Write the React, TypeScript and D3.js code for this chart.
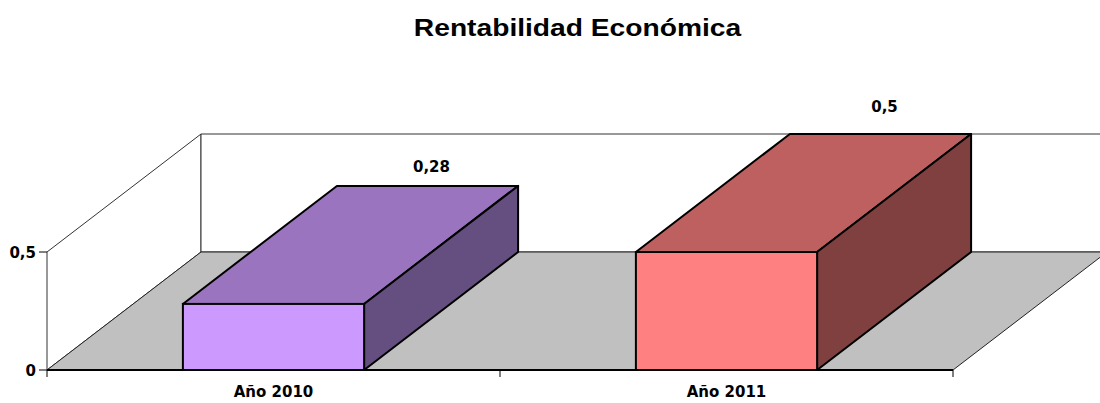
import React, { useEffect, useRef } from 'react';
import * as d3 from 'd3';

// chart data
const categories = ['Año 2010', 'Año 2011'];
const values = [0.28, 0.5];
const valueLabels = ['0,28', '0,5'];
const yTicks = [0, 0.5];
const yTickLabels = ['0', '0,5'];
const frontColors = ['#CC99FF', '#FF8080'];
const topColors = ['#9A74BE', '#BF6060'];
const sideColors = ['#654F80', '#804040'];

const W = 1100;
const H = 403;

const App: React.FC = () => {
  const svgRef = useRef<SVGSVGElement>(null);

  useEffect(() => {
    if (!svgRef.current) return;
    const svg = d3.select(svgRef.current);
    svg.selectAll('*').remove();

    const x0 = 47;
    const x1 = 953;
    const yBase = 370;
    const yTop = 252;
    // 3D depth offset
    const dx = 154;
    const dy = -118;

    const x = d3.scaleBand<string>().domain(categories).range([x0, x1]).padding(0);
    const y = d3.scaleLinear().domain([0, 0.5]).range([yBase, yTop]);
    const barW = x.bandwidth() * 0.4;

    const line = (pts: [number, number][]) => 'M' + pts.map(p => p.join(',')).join('L') + 'Z';
    const labelFont = '"DejaVu Sans", Verdana, sans-serif';

    // title
    svg.append('text')
      .attr('transform', `translate(577.5, 36) scale(1.2, 1)`)
      .attr('text-anchor', 'middle')
      .attr('font-family', '"Liberation Sans", Arial, sans-serif')
      .attr('font-weight', 'bold')
      .attr('font-size', 23.5)
      .attr('fill', '#000')
      .text('Rentabilidad Económica');

    const g = svg.append('g');

    // walls
    g.append('path')
      .attr('d', line([[x0, y(0.5)], [x0 + dx, y(0.5) + dy], [x0 + dx, yBase + dy], [x0, yBase]]))
      .attr('fill', '#fff').attr('stroke', '#333').attr('stroke-width', 1);
    g.append('path')
      .attr('d', line([[x0 + dx, y(0.5) + dy], [x1 + dx, y(0.5) + dy], [x1 + dx, yBase + dy], [x0 + dx, yBase + dy]]))
      .attr('fill', '#fff').attr('stroke', '#333').attr('stroke-width', 1);

    // floor
    g.append('path')
      .attr('d', line([[x0, yBase], [x1, yBase], [x1 + dx, yBase + dy], [x0 + dx, yBase + dy]]))
      .attr('fill', '#C0C0C0').attr('stroke', '#222').attr('stroke-width', 1);
    g.append('line')
      .attr('x1', x0).attr('x2', x1).attr('y1', yBase).attr('y2', yBase)
      .attr('stroke', '#000').attr('stroke-width', 2);

    // value axis ticks
    yTicks.forEach((t, i) => {
      g.append('line')
        .attr('x1', x0 - 8).attr('x2', x0).attr('y1', y(t)).attr('y2', y(t))
        .attr('stroke', '#000').attr('stroke-width', 1);
      g.append('text')
        .attr('x', x0 - 11).attr('y', y(t) + 5.5)
        .attr('text-anchor', 'end')
        .attr('font-family', labelFont)
        .attr('font-weight', 'bold')
        .attr('font-size', 15)
        .text(yTickLabels[i]);
    });

    // category ticks
    [x0, ...categories.map(c => x(c)! + x.bandwidth())].forEach(tx => {
      g.append('line')
        .attr('x1', tx).attr('x2', tx).attr('y1', yBase).attr('y2', yBase + 7)
        .attr('stroke', '#000').attr('stroke-width', 1);
    });

    // bars
    categories.forEach((c, i) => {
      const bx = x(c)! + (x.bandwidth() - barW) / 2;
      const bx2 = bx + barW;
      const by = y(values[i]);
      const bar = g.append('g');
      bar.append('path')
        .attr('d', line([[bx, by], [bx2, by], [bx2 + dx, by + dy], [bx + dx, by + dy]]))
        .attr('fill', topColors[i]).attr('stroke', '#000').attr('stroke-width', 2).attr('stroke-linejoin', 'round');
      bar.append('path')
        .attr('d', line([[bx2, by], [bx2 + dx, by + dy], [bx2 + dx, yBase + dy], [bx2, yBase]]))
        .attr('fill', sideColors[i]).attr('stroke', '#000').attr('stroke-width', 2).attr('stroke-linejoin', 'round');
      bar.append('rect')
        .attr('x', bx).attr('y', by).attr('width', barW).attr('height', yBase - by)
        .attr('fill', frontColors[i]).attr('stroke', '#000').attr('stroke-width', 2);

      // value label above the back edge of the top face
      const lift = by + dy - 14 <= y(0.5) + dy + 2 ? 22 : 14;
      g.append('text')
        .attr('x', bx + dx + barW / 2 + 4)
        .attr('y', by + dy - lift)
        .attr('text-anchor', 'middle')
        .attr('font-family', labelFont)
        .attr('font-weight', 'bold')
        .attr('font-size', 15)
        .text(valueLabels[i]);

      // category label
      g.append('text')
        .attr('x', x(c)! + x.bandwidth() / 2)
        .attr('y', 397)
        .attr('text-anchor', 'middle')
        .attr('font-family', labelFont)
        .attr('font-weight', 'bold')
        .attr('font-size', 15)
        .text(c);
    });
  }, []);

  return (
    <svg
      ref={svgRef}
      width={W}
      height={H}
      style={{ position: 'absolute', left: 0, top: 0, background: '#fff' }}
    />
  );
};

export default App;
